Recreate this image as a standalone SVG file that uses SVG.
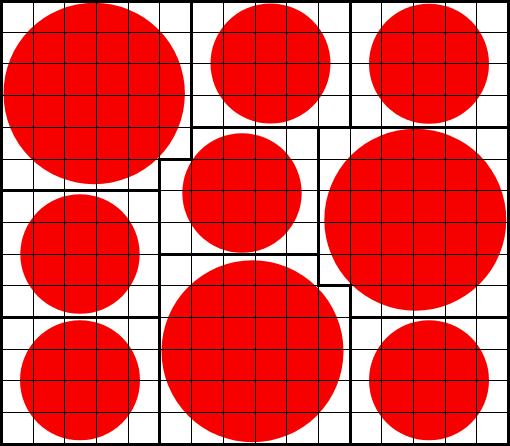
<svg xmlns="http://www.w3.org/2000/svg" width="510" height="446" viewBox="0 0 510 446">
<style>
.dot{fill:#f70000;stroke:none}
.box{fill:none;stroke:#000;stroke-width:3;stroke-linejoin:miter}
.grid{fill:none;stroke:#000;stroke-width:1;shape-rendering:crispEdges}
</style>
<rect x="0" y="0" width="510" height="446" fill="#fff"/>
<g id="nodes">
<g id="region-top-left">
<circle class="dot" cx="94.2" cy="93.5" r="90.7"/>
<path class="box" d="M1.5,1.5 H191.5 V159.5 H159.5 V190.5 H1.5 Z"/>
</g>
<g id="region-top-middle">
<circle class="dot" cx="270.5" cy="63.5" r="60"/>
<path class="box" d="M191.5,1.5 H350.5 V127.5 H191.5 Z"/>
</g>
<g id="region-top-right">
<circle class="dot" cx="429" cy="63.7" r="60"/>
<path class="box" d="M350.5,1.5 H508.5 V127.5 H350.5 Z"/>
</g>
<g id="region-center">
<circle class="dot" cx="242" cy="193" r="59.7"/>
<path class="box" d="M191.5,127.5 H318.5 V254.5 H159.5 V159.5 H191.5 Z"/>
</g>
<g id="region-right-middle">
<circle class="dot" cx="415.3" cy="219.7" r="91"/>
<path class="box" d="M318.5,127.5 H508.5 V317.5 H350.5 V285.5 H318.5 Z"/>
</g>
<g id="region-left-middle">
<circle class="dot" cx="80" cy="254" r="59.7"/>
<path class="box" d="M1.5,190.5 H159.5 V317.5 H1.5 Z"/>
</g>
<g id="region-bottom-middle">
<circle class="dot" cx="252.5" cy="351.3" r="91"/>
<path class="box" d="M159.5,254.5 H318.5 V285.5 H350.5 V444.5 H159.5 Z"/>
</g>
<g id="region-bottom-left">
<circle class="dot" cx="80" cy="380.2" r="60"/>
<path class="box" d="M1.5,317.5 H159.5 V444.5 H1.5 Z"/>
</g>
<g id="region-bottom-right">
<circle class="dot" cx="429" cy="380.2" r="60"/>
<path class="box" d="M350.5,317.5 H508.5 V444.5 H350.5 Z"/>
</g>
</g>
<g id="connectors"></g>
<g id="grid">
<path class="grid" d="M33.5,0 V446 M64.5,0 V446 M96.5,0 V446 M128.5,0 V446 M159.5,0 V446 M191.5,0 V446 M223.5,0 V446 M255.5,0 V446 M286.5,0 V446 M318.5,0 V446 M350.5,0 V446 M381.5,0 V446 M413.5,0 V446 M445.5,0 V446 M476.5,0 V446 M0,32.5 H510 M0,63.5 H510 M0,95.5 H510 M0,127.5 H510 M0,159.5 H510 M0,190.5 H510 M0,222.5 H510 M0,254.5 H510 M0,285.5 H510 M0,317.5 H510 M0,349.5 H510 M0,380.5 H510 M0,412.5 H510"/>
</g>
</svg>
